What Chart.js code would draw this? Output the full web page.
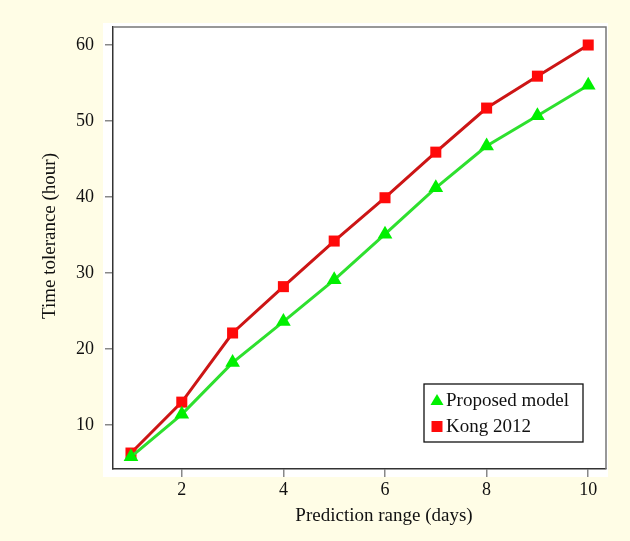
<!DOCTYPE html>
<html>
<head>
<meta charset="utf-8">
<script src="https://cdn.jsdelivr.net/npm/chart.js@4.4.1/dist/chart.umd.min.js"></script>
<style>
  html, body { margin: 0; padding: 0; background: #fffde6; }
  #wrap { width: 630px; height: 541px; position: relative; }
</style>
</head>
<body>
<div id="wrap"><canvas id="toleranceChart"></canvas></div>
<script>
// datos
const days = [1, 2, 3, 4, 5, 6, 7, 8, 9, 10];
const proposedModel = [5.8, 11.4, 18.2, 23.6, 29.1, 35.1, 41.2, 46.7, 50.7, 54.7];
const kong2012 = [6.3, 13.0, 22.1, 28.2, 34.2, 39.9, 45.9, 51.7, 55.9, 60.0];
const xTicks = [2, 4, 6, 8, 10];
const yTicks = [10, 20, 30, 40, 50, 60];

const serif = '"Liberation Serif", "DejaVu Serif", serif';

// fondo amarillo + recuadro blanco del área de trazado
const backgroundBox = {
    id: 'backgroundBox',
    beforeDraw(chart) {
        const { ctx, chartArea: a } = chart;
        ctx.save();
        ctx.fillStyle = '#fffde6';
        ctx.fillRect(0, 0, chart.width, chart.height);
        ctx.fillStyle = '#ffffff';
        ctx.fillRect(a.left - 10, a.top - 4, a.right - a.left + 12, a.bottom - a.top + 12);
        ctx.restore();
    },
    afterDatasetsDraw(chart) {
        const { ctx, chartArea: a } = chart;
        ctx.save();
        ctx.strokeStyle = '#777';
        ctx.lineWidth = 1.5;
        ctx.beginPath();
        ctx.moveTo(a.left, a.top);
        ctx.lineTo(a.right, a.top);
        ctx.lineTo(a.right, a.bottom);
        ctx.stroke();
        ctx.beginPath();
        ctx.restore();
    }
};

// títulos de los ejes (descentrados como en el original)
const axisTitles = {
    id: 'axisTitles',
    afterDraw(chart) {
        const { ctx } = chart;
        ctx.save();
        ctx.font = '19px ' + serif;
        ctx.fillStyle = '#111';
        ctx.textAlign = 'center';
        ctx.textBaseline = 'middle';
        ctx.fillText('Prediction range (days)', 384, 516);
        ctx.translate(50, 236);
        ctx.rotate(-Math.PI / 2);
        ctx.fillText('Time tolerance (hour)', 0, 0);
        ctx.restore();
    }
};

// leyenda dentro del gráfico, abajo a la derecha
const insideLegend = {
    id: 'insideLegend',
    afterDraw(chart) {
        const { ctx, chartArea: a } = chart;
        const w = 159, h = 58;
        const x0 = a.right - 23 - w, y0 = a.bottom - 27 - h;
        ctx.save();
        ctx.fillStyle = '#ffffff';
        ctx.fillRect(x0, y0, w, h);
        ctx.strokeStyle = '#111';
        ctx.lineWidth = 1.3;
        ctx.strokeRect(x0, y0, w, h);
        ctx.font = '19px ' + serif;
        ctx.textBaseline = 'middle';
        chart.data.datasets.forEach((ds, i) => {
            const cy = y0 + 16 + i * 26;
            const cx = x0 + 13;
            ctx.fillStyle = ds.pointBackgroundColor;
            ctx.beginPath();
            if (ds.pointStyle === 'triangle') {
                ctx.moveTo(cx, cy - 6);
                ctx.lineTo(cx + 6.5, cy + 5);
                ctx.lineTo(cx - 6.5, cy + 5);
                ctx.closePath();
            } else {
                ctx.rect(cx - 5.5, cy - 5, 11, 11);
            }
            ctx.fill();
            ctx.fillStyle = '#111';
            ctx.fillText(ds.label, x0 + 22, cy + 1);
        });
        ctx.restore();
    }
};

const chart = new Chart(document.getElementById('toleranceChart'), {
    type: 'line',
    data: {
        labels: days,
        datasets: [{
            label: 'Proposed model',
            data: days.map((d, i) => ({ x: d, y: proposedModel[i] })),
            borderColor: '#2ee02e',
            borderWidth: 3,
            pointStyle: 'triangle',
            pointRadius: 8.5,
            pointBackgroundColor: '#00f000',
            pointBorderColor: '#00f000',
            pointBorderWidth: 0,
            tension: 0
        }, {
            label: 'Kong 2012',
            data: days.map((d, i) => ({ x: d, y: kong2012[i] })),
            borderColor: '#cc1515',
            borderWidth: 3,
            pointStyle: 'rect',
            pointRadius: 7.8,
            pointBackgroundColor: '#ff0a0a',
            pointBorderColor: '#ff0a0a',
            pointBorderWidth: 0,
            tension: 0
        }]
    },
    options: {
        responsive: true,
        maintainAspectRatio: false,
        animation: false,
        layout: {
            padding: { left: 0, top: 27, right: 24, bottom: 0 }
        },
        plugins: {
            legend: { display: false },
            tooltip: { enabled: false }
        },
        scales: {
            x: {
                type: 'linear',
                min: 0.646,
                max: 10.35,
                afterBuildTicks: (s) => { s.ticks = xTicks.map(v => ({ value: v })); },
                afterFit: (s) => { s.height = 72; },
                grid: { drawOnChartArea: false, drawTicks: true, tickLength: 8, color: '#888', lineWidth: 1.5 },
                border: { color: '#333', width: 1.5 },
                ticks: { color: '#111', font: { family: serif, size: 18 }, padding: 2 },
                title: { display: false }
            },
            y: {
                min: 4.2,
                max: 62.37,
                afterBuildTicks: (s) => { s.ticks = yTicks.map(v => ({ value: v })); },
                afterFit: (s) => { s.width = 113; },
                grid: { drawOnChartArea: false, drawTicks: true, tickLength: 8, color: '#888', lineWidth: 1.5 },
                border: { color: '#333', width: 1.5 },
                ticks: { color: '#111', font: { family: serif, size: 18 }, padding: 11 },
                title: { display: false }
            }
        }
    },
    plugins: [backgroundBox, axisTitles, insideLegend]
});
</script>
</body>
</html>
